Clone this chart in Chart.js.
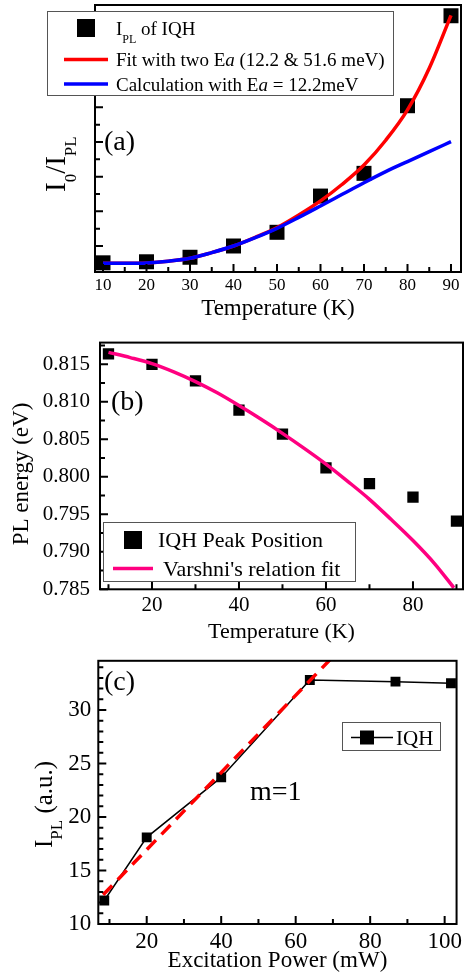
<!DOCTYPE html>
<html><head><meta charset="utf-8">
<script src="https://cdn.jsdelivr.net/npm/chart.js@4"></script>
<style>
html,body{margin:0;padding:0;background:#fff;}
#wrap{position:relative;width:466px;height:972px;overflow:hidden;background:#fff;}
canvas{position:absolute;left:0;}
</style></head><body>
<div id="wrap">
<canvas id="ca" width="466" height="330" style="top:0px"></canvas>
<canvas id="cb" width="466" height="330" style="top:320px"></canvas>
<canvas id="cc" width="466" height="332" style="top:640px"></canvas>
</div>
<script>
// ---------- Panel (a) data ----------
const aTemp  = [10, 20, 30, 40, 50, 60, 70, 80, 90];
const aRatio = [1.03, 1.09, 1.35, 2.0, 2.79, 4.88, 6.19, 10.09, 15.28];
const aCurveT = [10, 15, 20, 25, 30, 35, 40, 45, 50, 55, 60, 65, 70, 75, 80, 85, 90];
const aFitTwo = [1.0, 1.0, 1.02, 1.12, 1.29, 1.62, 2.0, 2.5, 3.06, 3.79, 4.6, 5.56, 6.67, 8.1, 9.85, 12.25, 15.3];
const aCalcOne = [1.0, 1.0, 1.02, 1.12, 1.29, 1.62, 2.0, 2.48, 3.02, 3.65, 4.31, 4.98, 5.65, 6.29, 6.87, 7.44, 8.02];
const aXTicks = [10, 20, 30, 40, 50, 60, 70, 80, 90];
const aYTicks = [2, 4, 6, 8, 10, 12, 14];

// ---------- Panel (b) data ----------
const bTemp   = [10, 20, 30, 40, 50, 60, 70, 80, 90];
const bEnergy = [0.8164, 0.8150, 0.8128, 0.8089, 0.8057, 0.8012, 0.7991, 0.7973, 0.7941];
const bFitT   = [10, 15, 20, 25, 30, 35, 40, 45, 50, 55, 60, 65, 70, 75, 80, 85, 89.4];
const bFitE   = [0.8166, 0.8159, 0.8151, 0.8140, 0.8127, 0.8112, 0.8095, 0.8077, 0.8058, 0.8038, 0.8017, 0.7994, 0.7970, 0.7943, 0.7915, 0.7884, 0.7852];
const bXTicks = [20, 40, 60, 80];
const bYTicks = [0.785, 0.790, 0.795, 0.800, 0.805, 0.810, 0.815];

// ---------- Panel (c) data ----------
const cPower = [8.6, 20, 40, 63.8, 86.8, 101.7];
const cIPL   = [12.2, 18.1, 23.7, 32.8, 32.65, 32.5];
const cFitP  = [8.3, 69.5];
const cFitI  = [12.73, 34.8];
const cXTicks = [20, 40, 60, 80, 100];
const cYTicks = [10, 15, 20, 25, 30];

const SERIF = "'Liberation Serif', 'Times New Roman', serif";
Chart.defaults.font.family = SERIF;
Chart.defaults.color = '#000';

function pts(xs, ys){ return xs.map((x,i)=>({x:x, y:ys[i]})); }
function setTicks(arr){ return s => { s.ticks = arr.map(v=>({value:v})); }; }
function font(ctx, size, italic){ ctx.font = (italic?'italic ':'') + size + 'px ' + SERIF; }

function frameAndTicks(chart, xMaj, xMin, yMaj, yMin, maj, min){
  const {ctx, chartArea:a, scales} = chart;
  const x = scales.x, y = scales.y;
  ctx.save();
  ctx.strokeStyle = '#000';
  ctx.lineWidth = 2;
  ctx.beginPath();
  const tk = (vals, len) => {
    vals.forEach(v=>{ const p = x.getPixelForValue(v); if(p<a.left||p>a.right) return; ctx.moveTo(p, a.bottom); ctx.lineTo(p, a.bottom-len); });
  };
  const tky = (vals, len) => {
    vals.forEach(v=>{ const p = y.getPixelForValue(v); if(p<a.top||p>a.bottom) return; ctx.moveTo(a.left, p); ctx.lineTo(a.left+len, p); });
  };
  tk(xMaj, maj); tk(xMin, min); tky(yMaj, maj); tky(yMin, min);
  ctx.stroke();
  ctx.strokeRect(a.left, a.top, a.right-a.left, a.bottom-a.top);
  ctx.restore();
}
function halfSteps(arr, step){ const out=[]; arr.forEach(v=>{ out.push(v-step/2); }); out.push(arr[arr.length-1]+step/2); return out; }

function axisCommon(min, max, ticksArr){
  return {type:'linear', min:min, max:max, afterBuildTicks:setTicks(ticksArr),
    grid:{display:false, drawTicks:false}, border:{display:false}};
}

// ================= Panel (a) =================
const decoA = {
  id:'decoA',
  afterDraw(chart){
    const ctx = chart.ctx;
    frameAndTicks(chart, aXTicks, halfSteps(aXTicks,10), aYTicks, [1,3,5,7,9,11,13,15], 8, 5);
    ctx.save();
    ctx.fillStyle = '#000';
    ctx.textBaseline = 'alphabetic';
    font(ctx, 28); ctx.textBaseline='middle'; ctx.fillText('(a)', 104, 143);
    ctx.save();
    ctx.translate(65, 192); ctx.rotate(-Math.PI/2);
    ctx.textBaseline='alphabetic';
    let px = 0;
    font(ctx, 29); ctx.fillText('I', px, 0); px += ctx.measureText('I').width;
    font(ctx, 17); ctx.fillText('0', px, 11); px += ctx.measureText('0').width;
    font(ctx, 29); ctx.fillText('/', px, 0); px += ctx.measureText('/').width;
    ctx.fillText('I', px, 0); px += ctx.measureText('I').width;
    font(ctx, 17); ctx.fillText('PL', px, 11);
    ctx.restore();
    ctx.fillStyle = '#fff';
    ctx.fillRect(47, 11, 346, 85);
    ctx.strokeStyle = '#555'; ctx.lineWidth = 1;
    ctx.strokeRect(47.5, 11.5, 346, 84);
    ctx.fillStyle = '#000';
    ctx.fillRect(77, 19, 18, 18);
    ctx.textBaseline='alphabetic';
    font(ctx, 19); ctx.fillText('I', 116, 35);
    let w = ctx.measureText('I').width;
    font(ctx, 12); ctx.fillText('PL', 116+w, 42.5);
    font(ctx, 19); ctx.fillText('of IQH', 141, 35);
    ctx.lineWidth = 3.5;
    ctx.strokeStyle = '#ff0000'; ctx.beginPath(); ctx.moveTo(64, 59.5); ctx.lineTo(108, 59.5); ctx.stroke();
    ctx.strokeStyle = '#0000ff'; ctx.beginPath(); ctx.moveTo(64, 84); ctx.lineTo(108, 84); ctx.stroke();
    const seg = (parts, x, yb) => {
      parts.forEach(p => { font(ctx, 19, p[1]); ctx.fillText(p[0], x, yb); x += ctx.measureText(p[0]).width; });
    };
    seg([['Fit with two E',false],['a',true],[' (12.2 & 51.6 meV)',false]], 116, 66);
    seg([['Calculation with E',false],['a',true],[' = 12.2meV',false]], 116, 90.5);
    ctx.restore();
  }
};

new Chart(document.getElementById('ca'), {
  type:'scatter',
  data:{datasets:[
    {label:'IPL of IQH', data:pts(aTemp, aRatio), pointStyle:'rect', pointRadius:10.6, backgroundColor:'#000', borderColor:'#000', borderWidth:0, showLine:false, order:3},
    {label:'Fit with two Ea (12.2 & 51.6 meV)', data:pts(aCurveT, aFitTwo), showLine:true, borderColor:'#ff0000', borderWidth:3.5, pointRadius:0, cubicInterpolationMode:'monotone', order:2},
    {label:'Calculation with Ea = 12.2meV', data:pts(aCurveT, aCalcOne), showLine:true, borderColor:'#0000ff', borderWidth:3.5, pointRadius:0, cubicInterpolationMode:'monotone', order:1}
  ]},
  options:{
    responsive:false, animation:false, events:[],
    layout:{padding:{left:0, top:5, right:5, bottom:0}, autoPadding:false},
    plugins:{legend:{display:false}, tooltip:{enabled:false}},
    scales:{
      x:Object.assign(axisCommon(8.16, 92.3, aXTicks), {
        afterFit:s=>{ s.height = 330-272; },
        ticks:{font:{size:17}, color:'#000', padding:3, maxRotation:0, autoSkip:false},
        title:{display:true, text:'Temperature (K)', color:'#000', font:{size:23, lineHeight:1}, padding:{top:0, bottom:10}}
      }),
      y:Object.assign(axisCommon(0.5, 15.9, aYTicks), {
        afterFit:s=>{ s.width = 95; },
        ticks:{display:false}
      })
    }
  },
  plugins:[decoA]
});

// ================= Panel (b) =================
const decoB = {
  id:'decoB',
  afterDraw(chart){
    const ctx = chart.ctx;
    frameAndTicks(chart, bXTicks, [10,30,50,70,90], bYTicks, [0.7875,0.7925,0.7975,0.8025,0.8075,0.8125,0.8175], 8, 5);
    ctx.save();
    ctx.fillStyle = '#000';
    font(ctx, 28); ctx.textBaseline='middle'; ctx.fillText('(b)', 111, 83);
    ctx.save();
    ctx.translate(22, 154); ctx.rotate(-Math.PI/2);
    ctx.textAlign='center'; ctx.textBaseline='middle';
    font(ctx, 23); ctx.fillText('PL energy (eV)', 0, 0);
    ctx.restore();
    ctx.fillStyle='#fff'; ctx.fillRect(103, 202, 252, 59);
    ctx.strokeStyle='#555'; ctx.lineWidth=1; ctx.strokeRect(103.5, 202.5, 252, 59);
    ctx.fillStyle='#000'; ctx.fillRect(124, 211, 18, 18);
    ctx.textBaseline='alphabetic';
    font(ctx, 22); ctx.fillText('IQH Peak Position', 158, 227);
    ctx.strokeStyle='#ff0080'; ctx.lineWidth=3.5;
    ctx.beginPath(); ctx.moveTo(113, 248.5); ctx.lineTo(153, 248.5); ctx.stroke();
    ctx.fillText("Varshni's relation fit", 163, 255.5);
    ctx.restore();
  }
};

new Chart(document.getElementById('cb'), {
  type:'scatter',
  data:{datasets:[
    {label:'IQH Peak Position', data:pts(bTemp, bEnergy), pointStyle:'rect', pointRadius:8, backgroundColor:'#000', borderColor:'#000', borderWidth:0, showLine:false, order:2},
    {label:"Varshni's relation fit", data:pts(bFitT, bFitE), showLine:true, borderColor:'#ff0080', borderWidth:3.5, pointRadius:0, cubicInterpolationMode:'monotone', order:1}
  ]},
  options:{
    responsive:false, animation:false, events:[],
    layout:{padding:{left:0, top:12.7, right:3, bottom:0}, autoPadding:false},
    plugins:{legend:{display:false}, tooltip:{enabled:false}},
    scales:{
      x:Object.assign(axisCommon(8.05, 91.5, bXTicks), {
        afterFit:s=>{ s.height = 330-269.3; },
        ticks:{font:{size:21}, color:'#000', padding:4, maxRotation:0, autoSkip:false},
        title:{display:true, text:'Temperature (K)', color:'#000', font:{size:22, lineHeight:1}, padding:{top:0, bottom:7}}
      }),
      y:Object.assign(axisCommon(0.785, 0.8179, bYTicks), {
        afterFit:s=>{ s.width = 100; },
        ticks:{font:{size:21}, color:'#000', padding:10, callback:v=>v.toFixed(3)}
      })
    }
  },
  plugins:[decoB]
});

// ================= Panel (c) =================
const decoC = {
  id:'decoC',
  afterDraw(chart){
    const ctx = chart.ctx;
    const yMin = [];
    for (let v=11; v<=34; v++) if (v%5) yMin.push(v);
    frameAndTicks(chart, cXTicks, [10,30,50,70,90], cYTicks, yMin, 8, 5);
    ctx.save();
    ctx.fillStyle='#000';
    font(ctx, 28); ctx.textBaseline='middle'; ctx.fillText('(c)', 104, 43);
    font(ctx, 28); ctx.fillText('m=1', 250, 153);
    ctx.save();
    ctx.translate(52, 208); ctx.rotate(-Math.PI/2);
    ctx.textBaseline='alphabetic';
    let px = 0;
    font(ctx, 25); ctx.fillText('I', px, 0); px += ctx.measureText('I').width;
    font(ctx, 17); ctx.fillText('PL', px, 10); px += ctx.measureText('PL').width;
    font(ctx, 25); ctx.fillText(' (a.u.)', px, 0);
    ctx.restore();
    ctx.fillStyle='#fff'; ctx.fillRect(342, 82, 98, 29);
    ctx.strokeStyle='#555'; ctx.lineWidth=1; ctx.strokeRect(342.5, 82.5, 98, 28);
    ctx.strokeStyle='#000'; ctx.lineWidth=1.5;
    ctx.beginPath(); ctx.moveTo(351, 97.5); ctx.lineTo(393, 97.5); ctx.stroke();
    ctx.fillStyle='#000'; ctx.fillRect(360, 90.5, 14, 14);
    font(ctx, 21); ctx.textBaseline='alphabetic'; ctx.fillText('IQH', 396, 104.5);
    ctx.restore();
  }
};

new Chart(document.getElementById('cc'), {
  type:'scatter',
  data:{datasets:[
    {label:'IQH', data:pts(cPower, cIPL), pointStyle:'rect', pointRadius:7, backgroundColor:'#000', borderColor:'#000', pointBorderWidth:0, borderWidth:1.5, showLine:true, order:2},
    {label:'m=1 fit', data:pts(cFitP, cFitI), showLine:true, borderColor:'#ff0000', borderWidth:3.5, borderDash:[13,8], pointRadius:0, order:1}
  ]},
  options:{
    responsive:false, animation:false, events:[],
    layout:{padding:{left:0, top:16.7, right:3, bottom:0}, autoPadding:false},
    plugins:{legend:{display:false}, tooltip:{enabled:false}},
    scales:{
      x:Object.assign(axisCommon(7.0, 103.2, cXTicks), {
        afterFit:s=>{ s.height = 332-284; },
        ticks:{font:{size:23}, color:'#000', padding:4, maxRotation:0, autoSkip:false},
        title:{display:true, text:'Excitation Power (mW)', color:'#000', font:{size:23, lineHeight:1}, padding:{top:0, bottom:0}}
      }),
      y:Object.assign(axisCommon(10, 34.6, cYTicks), {
        afterFit:s=>{ s.width = 98.3; },
        ticks:{font:{size:23}, color:'#000', padding:7}
      })
    }
  },
  plugins:[decoC]
});
</script>
</body></html>
